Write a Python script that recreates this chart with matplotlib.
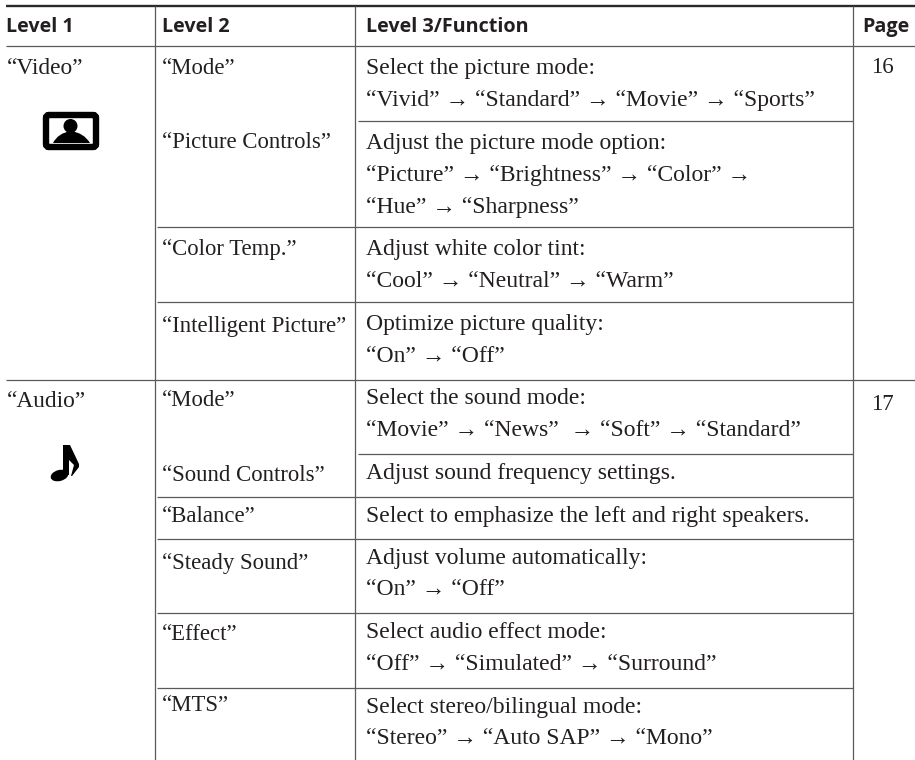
## settings menu table drawn on a full-figure axes in pixel coordinates

import matplotlib
matplotlib.use('Agg')
import matplotlib.pyplot as plt
from matplotlib.patches import Circle, Ellipse, FancyBboxPatch, PathPatch, Rectangle
from matplotlib.path import Path

# table text
headers = ['Level 1', 'Level 2', 'Level 3/Function', 'Page']
level1 = ['“Video”', '“Audio”']
level2 = ['“Mode”', '“Picture Controls”', '“Color Temp.”', '“Intelligent Picture”',
          '“Mode”', '“Sound Controls”', '“Balance”', '“Steady Sound”', '“Effect”', '“MTS”']
level3 = ['Select the picture mode:',
          '“Vivid” → “Standard” → “Movie” → “Sports”',
          'Adjust the picture mode option:',
          '“Picture” → “Brightness” → “Color” →',
          '“Hue” → “Sharpness”',
          'Adjust white color tint:',
          '“Cool” → “Neutral” → “Warm”',
          'Optimize picture quality:',
          '“On” → “Off”',
          'Select the sound mode:',
          '“Movie” → “News”  → “Soft” → “Standard”',
          'Adjust sound frequency settings.',
          'Select to emphasize the left and right speakers.',
          'Adjust volume automatically:',
          '“On” → “Off”',
          'Select audio effect mode:',
          '“Off” → “Simulated” → “Surround”',
          'Select stereo/bilingual mode:',
          '“Stereo” → “Auto SAP” → “Mono”']
pages = ['16', '17']

# baselines in pixels
level1_y = [74, 407]
level2_y = [74, 148, 255, 332, 406, 481, 522, 569, 640, 711]
level3_y = [74, 106, 149, 181, 213, 255, 287, 330, 362, 404, 436, 479, 522, 564, 595, 638, 670, 713, 744]
pages_y = [73, 410]

# rules
rules_full = [46, 380]
rules_l3 = [121, 454]
rules_l2 = [227, 302, 497, 539, 613, 688]
col_x = [155, 355, 853]

INK = '#231f20'
RULE = '#5a5a5a'
SERIF = 'Liberation Serif'
SANS = 'Open Sans'

fig = plt.figure(figsize=(9.15, 7.6), dpi=100)
ax = fig.add_axes([0, 0, 1, 1])
ax.set_xlim(0, 915)
ax.set_ylim(760, 0)
ax.axis('off')

# rules
ax.hlines(6, 6, 915, color='#2a2a2a', lw=1.7)
ax.hlines(rules_full, 6, 915, color=RULE, lw=0.9)
ax.hlines(rules_l3, 358, 853, color=RULE, lw=0.9)
ax.hlines(rules_l2, 157, 853, color=RULE, lw=0.9)
ax.vlines(col_x, 6, 760, color=RULE, lw=0.9)

# header row
for txt, x in zip(headers, [6, 162, 366, 862]):
    ax.text(x, 32, txt, family=SANS, weight='bold', size=14.2, color=INK, va='baseline')

# body
for txt, y in zip(level1, level1_y):
    ax.text(7, y, txt, family=SERIF, size=16.8, color=INK, va='baseline')
for txt, y in zip(level2, level2_y):
    ax.text(162, y, txt, family=SERIF, size=16.4, color=INK, va='baseline')
for txt, y in zip(level3, level3_y):
    ax.text(366, y, txt, family=SERIF, size=17, color=INK, va='baseline')
for txt, y in zip(pages, pages_y):
    ax.text(882, y, txt, family=SERIF, size=16.4, color=INK, va='baseline', ha='center')

# picture icon
ax.add_patch(FancyBboxPatch((46, 115), 50, 32, boxstyle='round,pad=0,rounding_size=3',
                            fc='white', ec='black', lw=4.6))
ax.add_patch(Circle((70.5, 126), 7, fc='black', ec='none'))
ax.add_patch(PathPatch(Path([(53, 143), (58, 133), (71, 131), (84, 133), (90, 143), (53, 143)],
                            [Path.MOVETO, Path.CURVE3, Path.CURVE3, Path.CURVE3, Path.CURVE3, Path.CLOSEPOLY]),
                       fc='black', ec='none'))

# note icon
ax.add_patch(PathPatch(Path([(68, 445), (70, 445), (79, 464), (79, 467), (72, 476), (71, 476), (74, 465), (68, 459), (68, 445)]),
                       fc='black', ec='none'))
ax.add_patch(Rectangle((63, 445), 6, 30, fc='black', ec='none'))
ax.add_patch(Ellipse((59.5, 475.5), 18, 11, angle=-15, fc='black', ec='none'))

fig.savefig('out.png', dpi=100)
